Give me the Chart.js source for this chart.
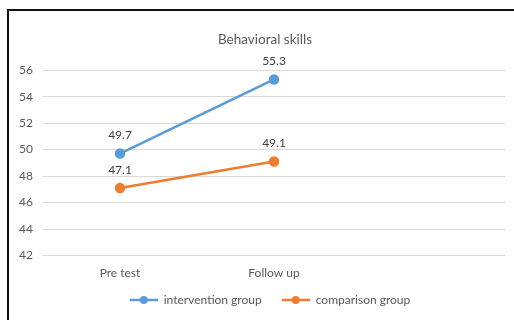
<!DOCTYPE html>
<html>
<head>
<meta charset="utf-8">
<script src="https://cdn.jsdelivr.net/npm/chart.js@4/dist/chart.umd.min.js"></script>
<style>
  html, body { margin: 0; padding: 0; background: #fff; overflow: hidden; }
  #wrap { position: relative; width: 514px; height: 320px; }
  #frame { position: absolute; left: 7px; top: 9px; width: 600px; height: 400px;
           border-left: 2px solid #111; border-top: 2px solid #111; pointer-events: none; }
</style>
</head>
<body>
<div id="wrap">
  <canvas id="chart" width="514" height="320"></canvas>
  <div id="frame"></div>
</div>
<script>
const categories = ['Pre test', 'Follow up', ''];
const interventionGroup = [49.7, 55.3, null];
const comparisonGroup = [47.1, 49.1, null];
const yTicks = [42, 44, 46, 48, 50, 52, 54, 56];

const blue = '#5B9BD5';
const orange = '#ED7D31';
const textGray = '#595959';
const fontFamily = 'Lato, "Liberation Sans", sans-serif';

// legend marker: line with a dot, with some empty room on its left
function legendMarker(color) {
    const c = document.createElement('canvas');
    c.width = 38;
    c.height = 10;
    const ctx = c.getContext('2d');
    ctx.strokeStyle = color;
    ctx.lineWidth = 2.5;
    ctx.beginPath();
    ctx.moveTo(10, 5);
    ctx.lineTo(38, 5);
    ctx.stroke();
    ctx.fillStyle = color;
    ctx.beginPath();
    ctx.arc(24, 5, 4, 0, Math.PI * 2);
    ctx.fill();
    return c;
}

// draws the value above every point
const valueLabels = {
    id: 'valueLabels',
    afterDatasetsDraw(chart) {
        const ctx = chart.ctx;
        ctx.save();
        ctx.font = '12px ' + fontFamily;
        ctx.fillStyle = '#404040';
        ctx.textAlign = 'center';
        ctx.textBaseline = 'middle';
        chart.data.datasets.forEach((ds, i) => {
            chart.getDatasetMeta(i).data.forEach((pt, j) => {
                const v = ds.data[j];
                if (v === null) return;
                ctx.fillText(v.toFixed(1), pt.x, pt.y - 18);
            });
        });
        ctx.restore();
    }
};

new Chart(document.getElementById('chart'), {
    type: 'line',
    data: {
        labels: categories,
        datasets: [{
            label: 'intervention group',
            data: interventionGroup,
            borderColor: blue,
            backgroundColor: blue,
            borderWidth: 2.5,
            pointRadius: 4
        }, {
            label: 'comparison group',
            data: comparisonGroup,
            borderColor: orange,
            backgroundColor: orange,
            borderWidth: 2.5,
            pointRadius: 4
        }]
    },
    options: {
        responsive: false,
        animation: false,
        layout: { padding: { top: 32, right: 0, bottom: 4, left: 16 } },
        scales: {
            x: {
                offset: true,
                afterFit: scale => { scale.height = 28.5; },
                grid: { display: false, drawTicks: false },
                border: { display: false },
                ticks: { color: textGray, font: { family: fontFamily, size: 12 }, padding: 10 }
            },
            y: {
                min: 42,
                max: 56,
                afterBuildTicks: scale => { scale.ticks = yTicks.map(v => ({ value: v })); },
                afterFit: scale => { scale.width = 27; },
                grid: { color: '#D9D9D9', lineWidth: 1, drawTicks: false },
                border: { display: false },
                ticks: { color: textGray, font: { family: fontFamily, size: 12 }, padding: 10 }
            },
            // empty right axis, only keeps the plot away from the right edge
            yRight: {
                position: 'right',
                min: 42,
                max: 56,
                afterFit: scale => { scale.width = 9; },
                grid: { display: false },
                border: { display: false },
                ticks: { display: false }
            }
        },
        plugins: {
            title: {
                display: true,
                text: 'Behavioral skills',
                color: textGray,
                font: { family: fontFamily, size: 13.5, weight: 'normal' },
                padding: { top: 0, bottom: 22 }
            },
            legend: {
                position: 'bottom',
                labels: {
                    usePointStyle: true,
                    pointStyleWidth: 38,
                    color: textGray,
                    font: { family: fontFamily, size: 12 },
                    padding: 10,
                    generateLabels: chart => chart.data.datasets.map((ds, i) => ({
                        text: ds.label,
                        pointStyle: legendMarker(ds.borderColor),
                        fillStyle: ds.borderColor,
                        strokeStyle: ds.borderColor,
                        lineWidth: 0,
                        fontColor: textGray,
                        datasetIndex: i
                    }))
                }
            },
            tooltip: { enabled: false }
        }
    },
    plugins: [valueLabels]
});
</script>
</body>
</html>
